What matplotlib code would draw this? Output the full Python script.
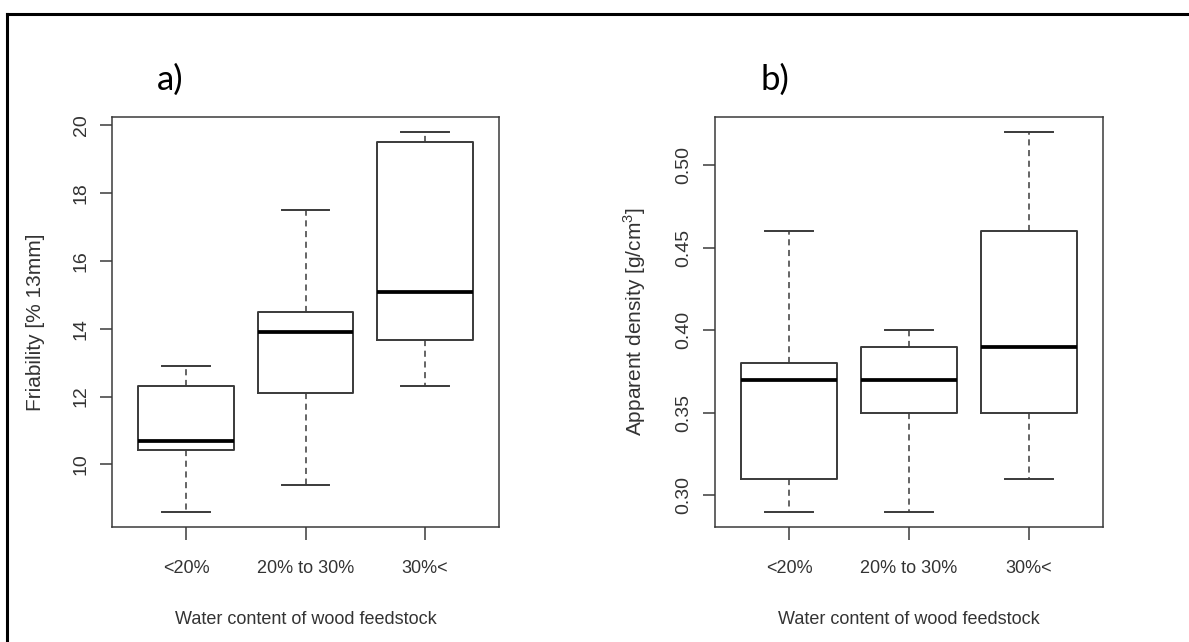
import matplotlib.pyplot as plt
from matplotlib.lines import Line2D

# datos
grupos = ['<20%', '20% to 30%', '30%<']

# a) friabilidad
fri_min = [8.6, 9.4, 12.3]
fri_q1 = [10.43, 12.12, 13.68]
fri_med = [10.7, 13.9, 15.1]
fri_q3 = [12.3, 14.5, 19.52]
fri_max = [12.9, 17.5, 19.8]

# b) densidad aparente
den_min = [0.29, 0.29, 0.31]
den_q1 = [0.31, 0.35, 0.35]
den_med = [0.37, 0.37, 0.39]
den_q3 = [0.38, 0.39, 0.46]
den_max = [0.46, 0.40, 0.52]

fri_ticks = [10, 12, 14, 16, 18, 20]
den_ticks = [0.30, 0.35, 0.40, 0.45, 0.50]

col = '#3a3a3a'
plt.rcParams['font.family'] = ['Liberation Sans', 'DejaVu Sans']
plt.rcParams['mathtext.fontset'] = 'custom'
plt.rcParams['mathtext.rm'] = 'Liberation Sans'


def stats(mn, q1, med, q3, mx):
    return [dict(whislo=a, q1=b, med=c, q3=d, whishi=e, fliers=[])
            for a, b, c, d, e in zip(mn, q1, med, q3, mx)]


def panel(ax, st, ticks, fmt, ylabel):
    ax.bxp(st, positions=[1, 2, 3], widths=0.8, showfliers=False,
           boxprops=dict(color=col, linewidth=1.4),
           medianprops=dict(color='black', linewidth=2.7),
           whiskerprops=dict(color=col, linewidth=1.1, linestyle=(0, (4, 3))),
           capprops=dict(color=col, linewidth=1.4), capwidths=0.4)
    lo = min(s['whislo'] for s in st)
    hi = max(s['whishi'] for s in st)
    r = hi - lo
    ax.set_ylim(lo - 0.04 * r, hi + 0.04 * r)
    ax.set_xlim(0.38, 3.62)
    ax.set_xticks([1, 2, 3])
    ax.set_xticklabels(grupos, fontsize=13, color='#333333')
    ax.set_yticks(ticks)
    ax.set_yticklabels([fmt % t for t in ticks], fontsize=14, color='#333333',
                       rotation=90, va='center')
    ax.tick_params(axis='x', length=9, width=1.1, color=col, pad=15)
    ax.tick_params(axis='y', length=9, width=1.1, color=col, pad=7)
    for s in ax.spines.values():
        s.set_color(col)
        s.set_linewidth(1.1)
    ax.set_xlabel('Water content of wood feedstock', fontsize=13,
                  color='#333333', labelpad=24)
    ax.set_ylabel(ylabel, fontsize=15, color='#333333', labelpad=20)


fig = plt.figure(figsize=(11.89, 6.42), dpi=100)
ax1 = fig.add_axes([0.0942, 0.1791, 0.3255, 0.6386])
ax2 = fig.add_axes([0.6013, 0.1791, 0.3263, 0.6386])

panel(ax1, stats(fri_min, fri_q1, fri_med, fri_q3, fri_max), fri_ticks,
      '%d', 'Friability [% 13mm]')
panel(ax2, stats(den_min, den_q1, den_med, den_q3, den_max), den_ticks,
      '%.2f', r'Apparent density [g/cm$^{\mathrm{3}}$]')

fig.text(0.132, 0.876, 'a)', fontsize=25, family='Lato', va='center')
fig.text(0.640, 0.876, 'b)', fontsize=25, family='Lato', va='center')

# marco exterior
fig.add_artist(Line2D([0.006, 0.006], [0, 0.978], color='black', linewidth=2.2))
fig.add_artist(Line2D([0.006, 1], [0.978, 0.978], color='black', linewidth=2.2))

fig.savefig('out.png', dpi=100)
